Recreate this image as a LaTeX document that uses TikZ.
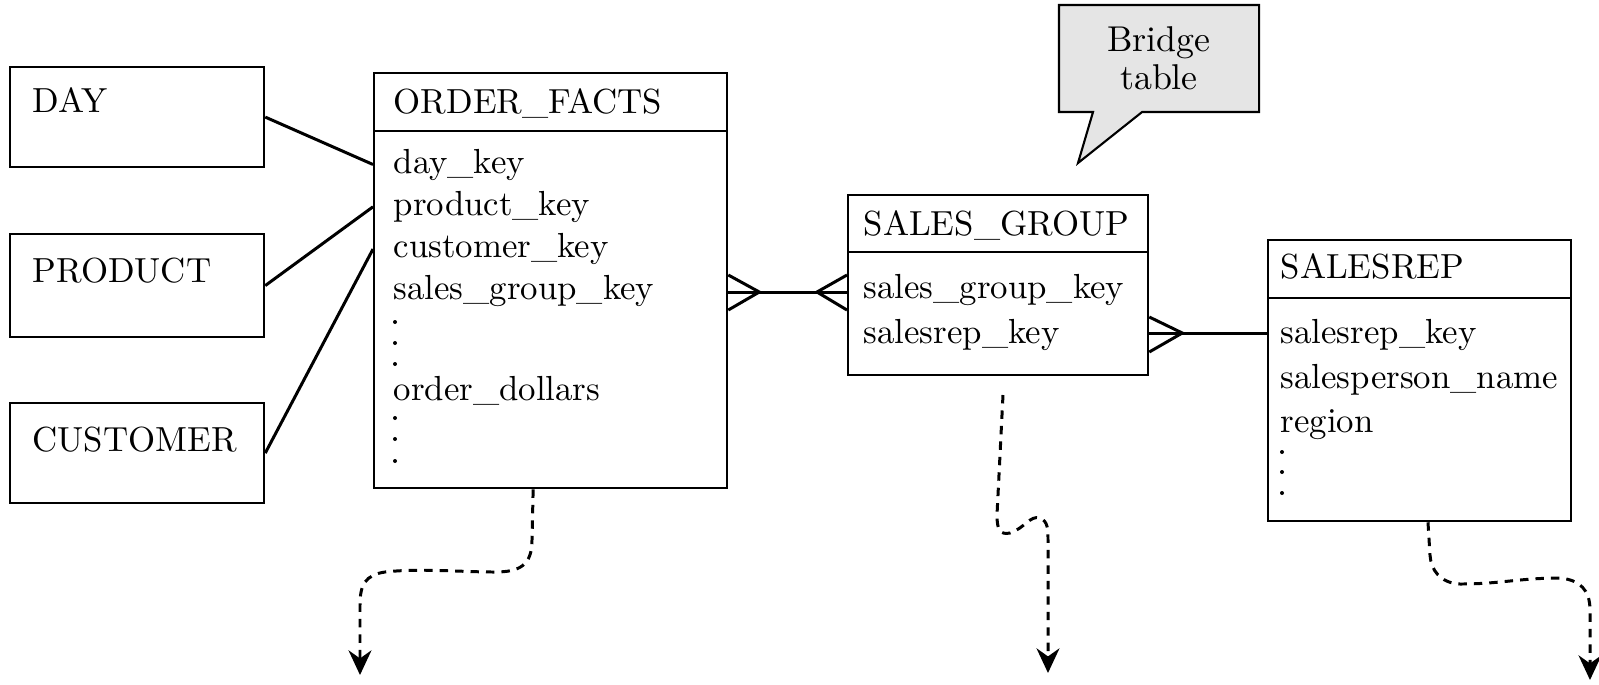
\documentclass[tikz,border=0pt]{standalone}
\usetikzlibrary{arrows.meta,calc,shapes.callouts}

\tikzset{
	box/.style={draw, line width=0.6pt, anchor=north west, inner sep=0pt},
	txt/.style={anchor=base west, inner sep=0pt, font=\fontsize{9.9}{11}\selectfont},
	link/.style={line width=0.85pt},
	flow/.style={line width=0.85pt, dash pattern=on 2.4pt off 2pt, -{Stealth[length=7pt,width=6.5pt]}}
}

\begin{document}
\begin{tikzpicture}[x=0.01cm, y=-0.01cm]
		\useasboundingbox (0,0) rectangle (1599,684);
		
		% dimension tables
		\node[box, minimum width=2.54cm, minimum height=1.0cm] (day) at (9,66) {};
		\node[box, minimum width=2.54cm, minimum height=1.03cm] (product) at (9,233) {};
		\node[box, minimum width=2.54cm, minimum height=1.0cm] (customer) at (9,402) {};
		\node[txt] (dayname) at (32,112) {DAY};
		\node[txt] (productname) at (32,282) {PRODUCT};
		\node[txt] (customername) at (32,451) {CUSTOMER};
		
		% fact table
		\node[box, minimum width=3.53cm, minimum height=4.15cm] (facts) at (373,72) {};
		\draw[line width=0.6pt] (facts.west |- 0,131) -- (facts.east |- 0,131);
		\node[txt] (factsname) at (393,113) {ORDER\_FACTS};
		\foreach \t [count=\i] in {day\_key, product\_key, customer\_key, sales\_group\_key}{
			\node[txt] (fk\i) at (393, 130.7+42.3*\i) {\t};
		}
		\node[txt] (fdollars) at (393,400) {order\_dollars};
		\foreach \y in {322, 343, 364, 418, 439, 461}{
			\fill (395,\y) circle (2);
		}
		
		% bridge table
		\node[box, minimum width=3.0cm, minimum height=1.8cm] (group) at (847,194) {};
		\draw[line width=0.6pt] (group.west |- 0,252) -- (group.east |- 0,252);
		\node[txt] (groupname) at (863,235) {SALES\_GROUP};
		\node[txt] (gk1) at (863,298) {sales\_group\_key};
		\node[txt] (gk2) at (863,343) {salesrep\_key};
		
		% salesrep
		\node[box, minimum width=3.03cm, minimum height=2.81cm] (rep) at (1267,239) {};
		\draw[line width=0.6pt] (rep.west |- 0,298) -- (rep.east |- 0,298);
		\node[txt] (repname) at (1280,278) {SALESREP};
		\foreach \t [count=\i] in {salesrep\_key, salesperson\_name, region}{
			\node[txt] (rk\i) at (1280, 299+44.5*\i) {\t};
		}
		\foreach \y in {452, 472, 493}{
			\fill (1282,\y) circle (2);
		}
		
		% callout
		\node[rectangle callout, draw, line width=0.6pt, fill=gray!20, minimum width=2.0cm, minimum height=1.07cm,
			callout absolute pointer={(1078,163)}, callout pointer width=0.49cm, align=center,
			font=\fontsize{10.2}{10.8}\selectfont] (bridge) at (1159,58.5) {Bridge\\table};
		
		% star links
		\draw[link] (day.east) -- (facts.west |- fk1);
		\draw[link] (product.east) -- (facts.west |- fk2);
		\draw[link] (customer.east) -- (facts.west |- fk3);
		
		% many to many
		\coordinate (a) at (facts.east |- 0,292);
		\coordinate (b) at (group.west |- 0,292);
		\draw[link] (a) -- (b);
		\draw[link] ($(a)+(0,-17)$) -- ($(a)+(31,0)$) -- ($(a)+(0,18)$);
		\draw[link] ($(b)+(0,-17)$) -- ($(b)+(-30,0)$) -- ($(b)+(0,18)$);
		\coordinate (c) at (group.east |- 0,333);
		\coordinate (d) at (rep.west |- 0,333);
		\draw[link] (c) -- (d);
		\draw[link] ($(c)+(0,-16)$) -- ($(c)+(33,0)$) -- ($(c)+(0,19)$);
		
		% continuations
		\coordinate (end1) at (360,675);
		\coordinate (end2) at (1048,673);
		\coordinate (end3) at (1590,680);
		\draw[flow] ($(facts.south)+(-17.5,0)$) -- (532,540) .. controls (532,565) and (520,572) .. (495,572)
			.. controls (460,572) and (420,568) .. (385,572) .. controls (365,575) and (360,585) .. (360,605) -- (end1);
		\draw[flow] (1003,395) -- (997,515) .. controls (997,530) and (1000,535) .. (1010,533)
			.. controls (1025,528) and (1030,515) .. (1040,518) .. controls (1048,521) and (1048,530) .. (1048,540) -- (end2);
		\draw[flow] (rep.south -| 1428,0) -- (1430,555) .. controls (1431,570) and (1440,583) .. (1460,584)
			.. controls (1500,584) and (1520,578) .. (1560,578) .. controls (1580,580) and (1590,590) .. (1590,610) -- (end3);
\end{tikzpicture}
\end{document}
